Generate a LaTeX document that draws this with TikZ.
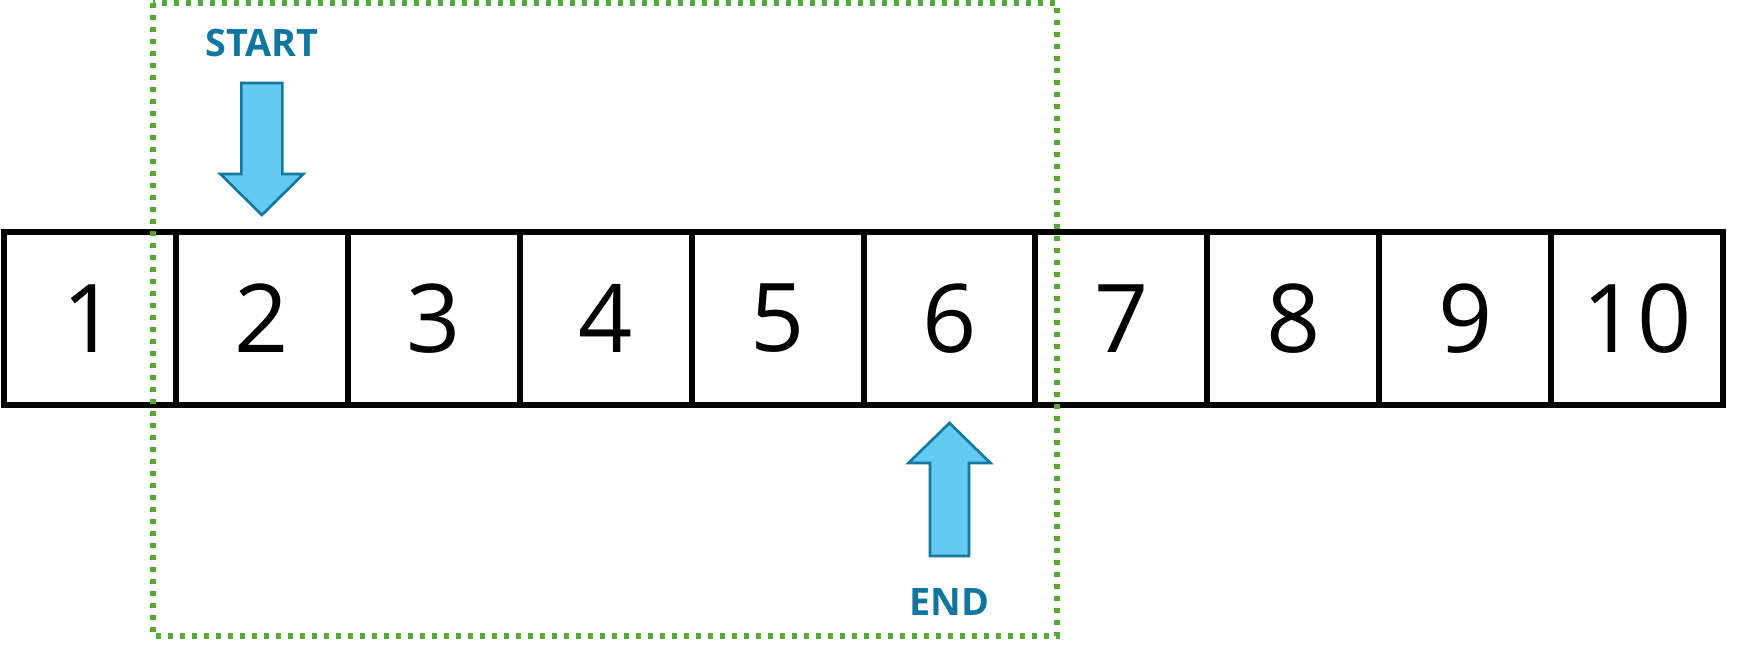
\documentclass[tikz,border=0pt]{standalone}
\usepackage{fontspec}
\setmainfont{Open Sans}
\usetikzlibrary{positioning,calc}
\definecolor{winGreen}{RGB}{84,170,50}
\definecolor{ptrFill}{RGB}{99,203,243}
\definecolor{ptrLine}{RGB}{20,120,160}
\definecolor{ptrText}{RGB}{16,118,159}
\tikzset{%
    cell/.style={draw,line width=3.4pt,outer sep=0pt,inner sep=0pt,
        minimum width=3.438cm,minimum height=3.46cm,
        font=\fontsize{54}{54}\selectfont},
    window/.style={draw=winGreen,line width=2.9pt,dash pattern=on 0.1cm off 0.14cm},
    blockarrow/.style={draw=ptrLine,fill=ptrFill,line width=1.5pt,line join=miter},
    ptrlabel/.style={text=ptrText,font=\fontsize{21.5}{21.5}\selectfont\bfseries,inner sep=0pt}
}

\begin{document}
\begin{tikzpicture}
            \useasboundingbox (0,0) rectangle (34.88,-12.96);
            \node [cell] (c1) at (1.799,-6.37) {1};
            \foreach \i [remember=\i as \prev (initially 1)] in {2,...,10}
                \node [cell,right=0pt of c\prev] (c\i) {\i};
            %%%%%
            \draw[window] (3.06,-0.06) rectangle (21.14,-12.72);
            %%%%%
            \coordinate (stip) at ($(c2.north)+(0,0.34)$);
            \draw[blockarrow] (stip) -- ++(-0.83,0.82) -- ++(0.42,0) -- ++(0,1.82)
                -- ++(0.82,0) -- ++(0,-1.82) -- ++(0.42,0) -- cycle;
            \node [ptrlabel] (start) at ($(c2.north)+(0,3.78)$) {START};
            \coordinate (etip) at ($(c6.south)+(0,-0.36)$);
            \draw[blockarrow] (etip) -- ++(-0.82,-0.8) -- ++(0.43,0) -- ++(0,-1.86)
                -- ++(0.78,0) -- ++(0,1.86) -- ++(0.43,0) -- cycle;
            \node [ptrlabel] (end) at ($(c6.south)+(0,-3.94)$) {END};
\end{tikzpicture}
\end{document}
